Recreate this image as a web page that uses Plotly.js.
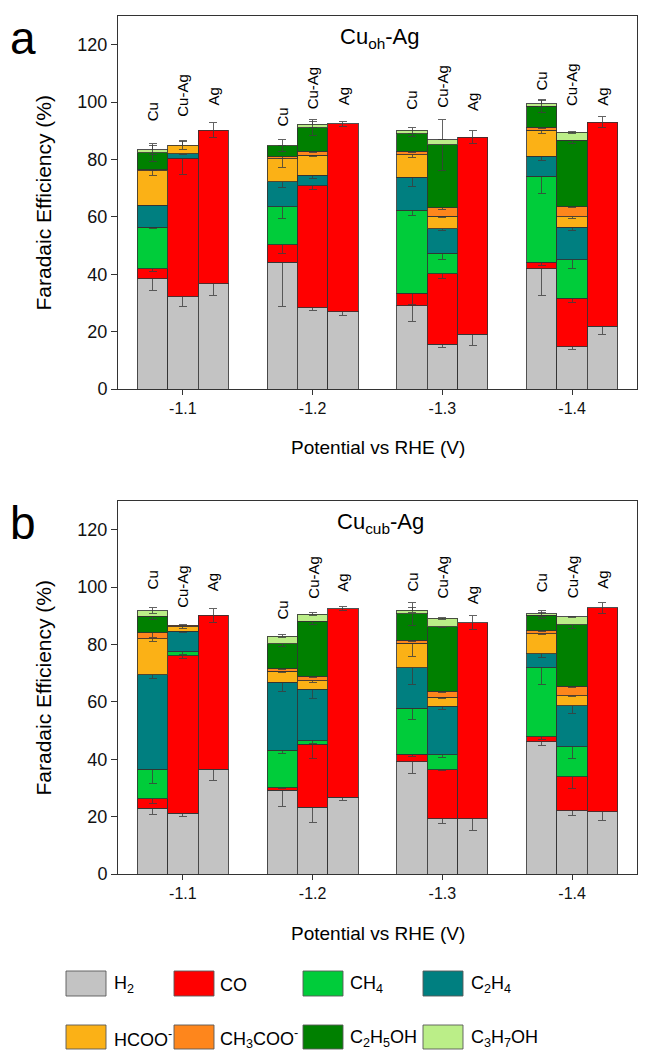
<!DOCTYPE html>
<html><head><meta charset="utf-8">
<script src="https://cdn.plot.ly/plotly-3.0.1.min.js"></script>
<style>html,body{margin:0;padding:0;background:#fff}#chart{width:657px;height:1051px}</style>
</head><body><div id="chart"></div>
<script>
// ---------- data ----------
const potentials = ['-1.1', '-1.2', '-1.3', '-1.4'];
const samples = ['Cu', 'Cu-Ag', 'Ag'];
const productNames = ['H<sub>2</sub>', 'CO', 'CH<sub>4</sub>', 'C<sub>2</sub>H<sub>4</sub>',
  'HCOO<sup>-</sup>', 'CH<sub>3</sub>COO<sup>-</sup>', 'C<sub>2</sub>H<sub>5</sub>OH', 'C<sub>3</sub>H<sub>7</sub>OH'];
const productColors = ['#c3c3c3', '#ff0000', '#00cc3a', '#007f80', '#fbb116', '#fe861c', '#008000', '#bbee88'];
const panelTitles = ['Cu<sub>oh</sub>-Ag', 'Cu<sub>cub</sub>-Ag'];
const panelLetters = ['a', 'b'];
const xTitle = 'Potential vs RHE (V)';
const yTitle = 'Faradaic Efficiency (%)';
const yTicks = [0, 20, 40, 60, 80, 100, 120];

// order: for each potential -> Cu, Cu-Ag, Ag
// Panel a (Cu_oh-Ag)
const H2_a      = [38.4, 32.2, 36.6, 44.1, 28.4, 27.0, 29.0, 15.6, 19.1, 41.9, 14.8, 21.9];
const H2_a_err  = [4.0, 3.5, 4.0, 15.5, 1.2, 1.5, 5.5, 1.0, 3.8, 9.3, 1.0, 3.0];
const CO_a      = [3.5, 48.3, 53.6, 6.1, 42.5, 65.4, 4.4, 24.6, 68.7, 2.3, 16.8, 71.1];
const CO_a_err  = [1.0, 5.8, 2.6, 3.0, 1.5, 1.0, 4.0, 1.6, 2.4, 1.0, 1.5, 2.0];
const CH4_a     = [14.4, 0, 0, 13.3, 0, 0, 28.9, 7.1, 0, 29.9, 13.5, 0];
const CH4_a_err = [0.5, 0, 0, 4.0, 0, 0, 1.9, 2.0, 0, 5.8, 3.0, 0];
const C2H4_a    = [7.8, 1.5, 0, 8.8, 3.6, 0, 11.5, 8.6, 0, 7.1, 11.2, 0];
const C2H4_a_err= [0.3, 0.3, 0, 2.0, 1.0, 0, 3.3, 0.5, 0, 1.5, 1.0, 0];
const HCOO_a    = [11.9, 3.0, 0, 8.0, 6.9, 0, 7.9, 4.3, 0, 8.9, 3.7, 0];
const HCOO_a_err= [1.7, 1.5, 0, 3.0, 0.5, 0, 1.0, 0.5, 0, 1.0, 0.5, 0];
const CH3COO_a  = [0.5, 0, 0, 0.7, 1.4, 0, 1.2, 3.0, 0, 1.1, 3.5, 0];
const CH3COO_a_err = [0.3, 0, 0, 0.5, 0.5, 0, 0.5, 0.5, 0, 0.5, 0.3, 0];
const C2H5OH_a  = [5.9, 0, 0, 3.8, 8.3, 0, 6.0, 21.9, 0, 7.4, 23.2, 0];
const C2H5OH_a_err = [3.0, 0, 0, 2.0, 2.8, 0, 1.0, 8.8, 0, 2.2, 1.0, 0];
const C3H7OH_a  = [1.0, 0, 0, 0.2, 1.2, 0, 1.2, 1.8, 0, 0.9, 2.7, 0];
const C3H7OH_a_err = [1.5, 0, 0, 0, 1.0, 0, 1.0, 0, 0, 1.0, 0.5, 0];

// Panel b (Cu_cub-Ag)
const H2_b      = [22.9, 21.2, 36.5, 29.2, 23.2, 26.8, 39.2, 19.2, 19.2, 46.1, 22.0, 21.7];
const H2_b_err  = [2.0, 1.0, 3.9, 5.7, 5.1, 1.2, 4.2, 1.5, 4.1, 1.2, 1.7, 3.0];
const CO_b      = [3.3, 54.8, 53.6, 0.8, 22.0, 65.7, 2.6, 17.2, 68.4, 1.7, 11.9, 71.1];
const CO_b_err  = [1.5, 1.0, 2.5, 0.3, 5.0, 0.7, 1.0, 0.5, 2.5, 1.0, 4.0, 2.0];
const CH4_b     = [10.3, 1.4, 0, 13.2, 1.3, 0, 15.9, 5.1, 0, 24.0, 10.4, 0];
const CH4_b_err = [4.9, 1.0, 0, 1.2, 1.0, 0, 3.9, 1.0, 0, 5.7, 4.0, 0];
const C2H4_b    = [33.0, 7.2, 0, 23.7, 17.9, 0, 14.2, 16.9, 0, 5.0, 14.4, 0];
const C2H4_b_err= [1.3, 0.5, 0, 3.4, 3.2, 0, 5.8, 1.0, 0, 1.5, 2.6, 0];
const HCOO_b    = [12.5, 1.6, 0, 3.8, 3.0, 0, 8.5, 3.2, 0, 7.0, 3.5, 0];
const HCOO_b_err= [1.0, 0.5, 0, 0.5, 0.5, 0, 4.6, 0.5, 0, 0.5, 0.5, 0];
const CH3COO_b  = [2.0, 0.5, 0, 0.8, 1.5, 0, 1.0, 2.1, 0, 0.9, 3.2, 0];
const CH3COO_b_err = [1.5, 0.3, 0, 0.3, 0.5, 0, 0.3, 0.3, 0, 0.3, 0.3, 0];
const C2H5OH_b  = [5.8, 0, 0, 8.8, 19.2, 0, 9.3, 22.5, 0, 5.4, 21.5, 0];
const C2H5OH_b_err = [1.0, 0, 0, 1.0, 1.0, 0, 4.0, 0.3, 0, 1.0, 1.5, 0];
const C3H7OH_b  = [2.0, 0, 0, 2.5, 2.4, 0, 1.3, 2.9, 0, 0.6, 2.7, 0];
const C3H7OH_b_err = [1.0, 0, 0, 0.5, 0.5, 0, 1.0, 0.3, 0, 1.0, 0.3, 0];

// sample label heights (data units, label centre)
const labelY_a = [96.6, 102.5, 102.0, 94.7, 105.0, 102.0, 100.5, 105.5, 99.9, 107.4, 106.0, 102.0];
const labelY_b = [102.5, 100.4, 101.8, 91.9, 103.5, 101.5, 101.6, 103.5, 97.1, 101.6, 103.5, 102.7];

const panelA = [[H2_a,H2_a_err],[CO_a,CO_a_err],[CH4_a,CH4_a_err],[C2H4_a,C2H4_a_err],
  [HCOO_a,HCOO_a_err],[CH3COO_a,CH3COO_a_err],[C2H5OH_a,C2H5OH_a_err],[C3H7OH_a,C3H7OH_a_err]];
const panelB = [[H2_b,H2_b_err],[CO_b,CO_b_err],[CH4_b,CH4_b_err],[C2H4_b,C2H4_b_err],
  [HCOO_b,HCOO_b_err],[CH3COO_b,CH3COO_b_err],[C2H5OH_b,C2H5OH_b_err],[C3H7OH_b,C3H7OH_b_err]];

// ---------- build ----------
const W = 657, H = 1051;
const BW = 0.234;
const FONT = 'Liberation Sans, Arial, Helvetica, sans-serif';
const NARROW = 'Liberation Sans Narrow, Liberation Sans, Arial, sans-serif';
const xs = [];
potentials.forEach((p, gi) => samples.forEach((s, si) => xs.push(gi + 1 + (si - 1) * BW)));
const px = v => v / W;
const py = v => 1 - v / H;

const traces = [];
[panelA, panelB].forEach((panel, pi) => {
  panel.forEach(([vals, errs], k) => {
    traces.push({
      type: 'bar',
      x: xs,
      y: vals.map(v => v === 0 ? null : v),
      width: BW,
      xaxis: pi === 0 ? 'x' : 'x2',
      yaxis: pi === 0 ? 'y' : 'y2',
      name: productNames[k],
      showlegend: false,
      marker: {color: productColors[k], line: {color: 'rgba(50,50,50,0.85)', width: 1}},
      error_y: {type: 'data', array: errs.map((e, i) => vals[i] === 0 ? 0 : e), visible: true,
        color: 'rgba(60,60,60,0.8)', thickness: 1, width: 4},
      hoverinfo: 'skip'
    });
  });
});

function xaxisDef(anchor) {
  return {domain: [px(118), px(637)], range: [0.5, 4.5], tickvals: [1, 2, 3, 4], ticktext: potentials,
    ticks: 'outside', ticklen: 5, tickcolor: '#333', showline: true, mirror: true, linecolor: '#333',
    linewidth: 1, showgrid: false, zeroline: false, tickfont: {size: 16, color: '#111', family: FONT},
    anchor: anchor, fixedrange: true};
}
function yaxisDef(top, bottom, anchor) {
  return {domain: [py(bottom), py(top)], range: [0, 130], tickvals: yTicks,
    ticks: 'outside', ticklen: 6, tickcolor: '#333', showline: true, mirror: true, linecolor: '#333',
    linewidth: 1, showgrid: false, zeroline: false, tickfont: {size: 18, color: '#111', family: FONT},
    anchor: anchor, fixedrange: true};
}

const annotations = [];
const shapes = [];
const panelBoxes = [[16, 389], [501, 874]];
panelBoxes.forEach(([top, bottom], pi) => {
  annotations.push({xref: 'paper', yref: 'paper', x: px(23), y: py(top + 22), text: panelLetters[pi],
    showarrow: false, font: {size: 46, family: FONT, color: '#000'}, xanchor: 'center', yanchor: 'middle'});
  annotations.push({xref: 'paper', yref: 'paper', x: px(380), y: py(top + 22), text: panelTitles[pi],
    showarrow: false, font: {size: 22, family: FONT, color: '#000'}, xanchor: 'center', yanchor: 'middle'});
  annotations.push({xref: 'paper', yref: 'paper', x: px(43), y: py((top + bottom) / 2), text: yTitle,
    textangle: -90, showarrow: false, font: {size: 21, family: FONT, color: '#000'}, xanchor: 'center', yanchor: 'middle'});
  annotations.push({xref: 'paper', yref: 'paper', x: px(377.5), y: py(bottom + 59), text: xTitle,
    showarrow: false, font: {size: 19, family: FONT, color: '#000'}, xanchor: 'center', yanchor: 'middle'});
  const ly = pi === 0 ? labelY_a : labelY_b;
  xs.forEach((xv, i) => {
    annotations.push({xref: pi === 0 ? 'x' : 'x2', yref: pi === 0 ? 'y' : 'y2', x: xv, y: ly[i],
      text: samples[i % 3], textangle: -90, showarrow: false,
      font: {size: 15, family: FONT, color: '#000'}, xanchor: 'center', yanchor: 'middle'});
  });
});

// legend (2 rows x 4 columns)
const legCols = [[66, 112], [174, 218], [303, 348], [423, 469]];
const legRows = [[971, 996], [1025, 1049]];
productNames.forEach((name, k) => {
  const r = Math.floor(k / 4), c = k % 4;
  const [x0, tx] = legCols[c];
  const [y0, y1] = legRows[r];
  shapes.push({type: 'rect', xref: 'paper', yref: 'paper', x0: px(x0), x1: px(x0 + 40), y0: py(y1), y1: py(y0),
    fillcolor: productColors[k], line: {color: 'rgba(90,90,90,0.9)', width: 1}});
  annotations.push({xref: 'paper', yref: 'paper', x: px(tx), y: py((y0 + y1) / 2 + 1), text: name,
    showarrow: false, xanchor: 'left', yanchor: 'middle', font: {size: 18, family: NARROW, color: '#000'}});
});

const layout = {
  width: W, height: H, margin: {l: 0, r: 0, t: 0, b: 0},
  paper_bgcolor: '#fff', plot_bgcolor: '#fff',
  barmode: 'stack', bargap: 0,
  font: {family: FONT, color: '#000'},
  xaxis: xaxisDef('y'), yaxis: yaxisDef(16, 389, 'x'),
  xaxis2: xaxisDef('y2'), yaxis2: yaxisDef(501, 874, 'x2'),
  annotations: annotations, shapes: shapes, showlegend: false
};

Plotly.newPlot('chart', traces, layout, {displayModeBar: false, staticPlot: true});
</script>
</body></html>
